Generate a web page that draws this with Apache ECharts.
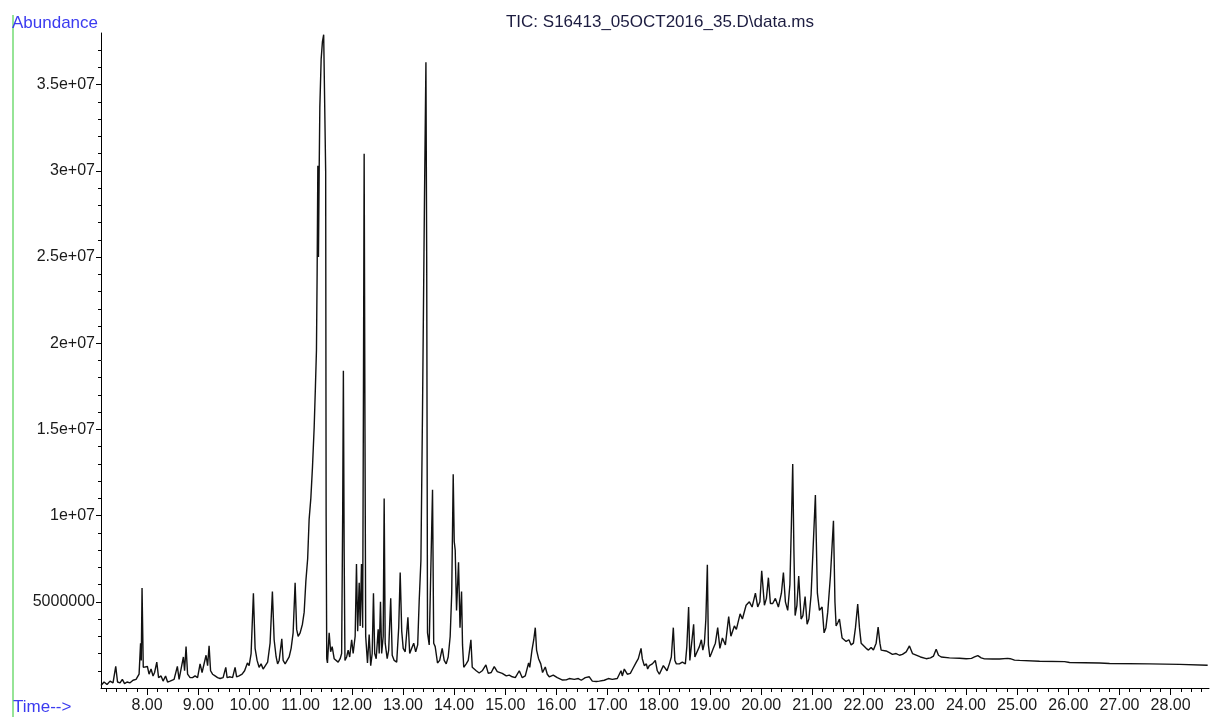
<!DOCTYPE html>
<html>
<head>
<meta charset="utf-8">
<script src="https://cdn.jsdelivr.net/npm/echarts@6/dist/echarts.min.js"></script>
<style>
  html, body { margin: 0; padding: 0; background: #ffffff; }
  #chart { width: 1211px; height: 717px; }
</style>
</head>
<body>
<div id="chart"></div>
<script>
// Total ion chromatogram: retention time (min) and abundance (millions of counts)
const retentionTime = [
  7.100, 7.159, 7.218, 7.277, 7.335, 7.388, 7.423, 7.472, 7.517, 7.560,
  7.609, 7.668, 7.726, 7.785, 7.844, 7.873, 7.887, 7.902, 7.926, 7.961,
  8.006, 8.039, 8.078, 8.117, 8.147, 8.190, 8.225, 8.274, 8.313, 8.362,
  8.401, 8.450, 8.489, 8.528, 8.557, 8.592, 8.626, 8.665, 8.710, 8.733,
  8.762, 8.792, 8.841, 8.889, 8.938, 8.987, 9.036, 9.075, 9.114, 9.153,
  9.183, 9.212, 9.241, 9.280, 9.329, 9.378, 9.427, 9.486, 9.538, 9.564,
  9.623, 9.671, 9.720, 9.750, 9.798, 9.857, 9.906, 9.961, 9.994, 10.033,
  10.078, 10.111, 10.150, 10.189, 10.228, 10.268, 10.307, 10.356, 10.404, 10.449,
  10.483, 10.522, 10.551, 10.581, 10.633, 10.659, 10.698, 10.737, 10.776, 10.815,
  10.854, 10.893, 10.923, 10.952, 10.991, 11.036, 11.070, 11.103, 11.138, 11.167,
  11.200, 11.232, 11.265, 11.290, 11.310, 11.323, 11.337, 11.349, 11.363, 11.376,
  11.402, 11.427, 11.451, 11.476, 11.490, 11.499, 11.511, 11.525, 11.558, 11.587,
  11.617, 11.656, 11.695, 11.734, 11.773, 11.802, 11.822, 11.836, 11.851, 11.867,
  11.900, 11.929, 11.959, 11.998, 12.027, 12.066, 12.092, 12.115, 12.145, 12.164,
  12.190, 12.213, 12.229, 12.242, 12.258, 12.272, 12.307, 12.340, 12.370, 12.399,
  12.424, 12.448, 12.477, 12.516, 12.536, 12.561, 12.584, 12.614, 12.633, 12.653,
  12.692, 12.721, 12.761, 12.790, 12.829, 12.878, 12.917, 12.946, 12.976, 13.005,
  13.044, 13.097, 13.132, 13.171, 13.210, 13.249, 13.288, 13.318, 13.351, 13.382,
  13.421, 13.449, 13.464, 13.480, 13.513, 13.543, 13.578, 13.601, 13.630, 13.675,
  13.718, 13.767, 13.806, 13.845, 13.884, 13.923, 13.953, 13.982, 14.002, 14.021,
  14.047, 14.086, 14.115, 14.145, 14.164, 14.188, 14.236, 14.276, 14.328, 14.354,
  14.393, 14.432, 14.490, 14.549, 14.621, 14.667, 14.725, 14.784, 14.843, 14.882,
  14.940, 15.019, 15.077, 15.136, 15.195, 15.273, 15.331, 15.390, 15.455, 15.478,
  15.521, 15.556, 15.586, 15.611, 15.650, 15.693, 15.728, 15.781, 15.820, 15.859,
  15.937, 16.016, 16.119, 16.191, 16.250, 16.348, 16.426, 16.485, 16.563, 16.641,
  16.700, 16.778, 16.837, 16.934, 17.013, 17.091, 17.188, 17.261, 17.286, 17.325,
  17.384, 17.443, 17.488, 17.521, 17.560, 17.599, 17.652, 17.677, 17.716, 17.756,
  17.781, 17.814, 17.847, 17.873, 17.931, 17.970, 18.010, 18.088, 18.127, 18.160,
  18.205, 18.244, 18.283, 18.313, 18.342, 18.401, 18.459, 18.518, 18.547, 18.582,
  18.606, 18.635, 18.680, 18.704, 18.733, 18.792, 18.831, 18.860, 18.890, 18.919,
  18.948, 18.968, 18.997, 19.026, 19.065, 19.105, 19.150, 19.193, 19.242, 19.300,
  19.365, 19.408, 19.476, 19.515, 19.588, 19.633, 19.705, 19.769, 19.822, 19.887,
  19.932, 19.975, 20.010, 20.063, 20.102, 20.141, 20.180, 20.225, 20.277, 20.336,
  20.395, 20.434, 20.473, 20.518, 20.561, 20.590, 20.616, 20.639, 20.663, 20.698,
  20.733, 20.780, 20.815, 20.858, 20.897, 20.932, 20.975, 21.020, 21.059, 21.098,
  21.138, 21.190, 21.229, 21.265, 21.300, 21.353, 21.412, 21.441, 21.464, 21.499,
  21.529, 21.581, 21.660, 21.714, 21.757, 21.802, 21.842, 21.886, 21.920, 21.953,
  21.984, 22.051, 22.096, 22.148, 22.193, 22.246, 22.285, 22.320, 22.344, 22.441,
  22.506, 22.565, 22.637, 22.702, 22.760, 22.833, 22.897, 22.956, 22.995, 23.112,
  23.224, 23.308, 23.367, 23.419, 23.464, 23.517, 23.679, 23.875, 24.006, 24.109,
  24.168, 24.233, 24.299, 24.363, 24.520, 24.657, 24.813, 24.866, 24.950, 25.048,
  25.439, 25.928, 26.026, 26.613, 26.807, 27.589, 28.176, 28.724
];

const abundanceMillions = [
  0.15, 0.35, 0.20, 0.40, 0.30, 1.25, 0.35, 0.30, 0.50, 0.25,
  0.35, 0.30, 0.45, 0.50, 0.80, 2.60, 1.60, 5.80, 1.20, 1.10,
  1.25, 0.80, 1.10, 0.70, 0.90, 1.50, 0.60, 0.70, 0.40, 0.70,
  0.35, 0.40, 0.30, 0.50, 0.40, 1.25, 0.50, 0.60, 1.80, 1.00,
  2.40, 0.80, 0.60, 0.60, 0.70, 0.60, 1.40, 0.90, 1.00, 1.90,
  1.30, 2.45, 1.00, 0.80, 0.70, 0.60, 0.55, 0.60, 1.20, 0.60,
  0.65, 0.60, 1.20, 0.65, 0.70, 0.80, 1.00, 1.45, 1.30, 2.00,
  5.50, 2.30, 1.60, 1.20, 1.40, 1.10, 1.20, 1.50, 2.60, 5.60,
  2.80, 1.80, 1.40, 1.60, 2.85, 1.60, 1.40, 1.50, 1.80, 2.30,
  3.20, 6.10, 3.40, 3.00, 3.20, 3.70, 4.40, 6.20, 7.50, 9.80,
  11.00, 12.80, 15.10, 17.50, 19.60, 24.00, 30.30, 25.00, 30.00, 33.70,
  36.50, 37.50, 37.90, 38.00, 30.00, 10.00, 1.70, 1.45, 3.20, 2.10,
  2.40, 1.70, 1.60, 1.50, 1.70, 2.00, 10.00, 18.40, 8.00, 1.60,
  1.80, 2.20, 1.80, 2.80, 2.00, 3.00, 7.20, 3.30, 6.10, 3.60,
  7.20, 3.50, 18.00, 31.00, 15.00, 3.00, 1.45, 3.10, 1.30, 2.00,
  5.50, 2.00, 1.70, 3.40, 2.00, 5.00, 2.00, 3.00, 11.00, 2.60,
  1.70, 2.20, 5.20, 1.90, 1.60, 1.50, 3.50, 6.70, 3.30, 2.30,
  2.10, 4.10, 2.00, 2.30, 2.60, 2.10, 2.50, 5.10, 7.40, 16.00,
  28.50, 36.30, 25.00, 3.20, 2.50, 2.60, 11.50, 2.60, 2.40, 1.45,
  1.60, 2.30, 1.60, 1.40, 1.80, 3.00, 5.50, 12.40, 8.50, 8.00,
  4.50, 7.30, 3.50, 5.60, 2.50, 1.20, 1.40, 1.60, 2.80, 1.20,
  1.10, 1.00, 0.87, 1.00, 1.34, 0.85, 0.90, 1.24, 0.95, 0.87,
  0.85, 0.70, 0.75, 0.65, 0.60, 1.00, 0.60, 0.70, 1.45, 1.20,
  2.20, 2.80, 3.50, 2.20, 1.70, 1.40, 0.90, 1.22, 0.80, 0.65,
  0.75, 0.60, 0.46, 0.47, 0.55, 0.50, 0.55, 0.45, 0.60, 0.65,
  0.40, 0.38, 0.40, 0.45, 0.55, 0.50, 0.55, 1.00, 0.70, 1.10,
  0.80, 0.85, 1.10, 1.00, 1.50, 1.70, 2.30, 1.70, 1.30, 1.40,
  1.10, 1.30, 1.20, 1.40, 1.60, 1.00, 0.80, 1.30, 1.20, 1.00,
  1.40, 1.80, 3.50, 1.60, 1.40, 1.40, 1.50, 1.40, 2.40, 4.70,
  1.60, 1.70, 3.70, 1.80, 2.00, 2.40, 2.80, 2.20, 2.60, 4.00,
  7.15, 2.50, 1.80, 2.00, 2.30, 2.60, 3.50, 2.30, 2.90, 2.50,
  4.15, 3.00, 3.60, 3.40, 4.30, 4.00, 4.80, 5.00, 4.70, 5.50,
  4.70, 5.00, 6.80, 4.80, 5.20, 6.40, 4.90, 4.90, 5.20, 4.70,
  5.50, 6.70, 5.00, 4.50, 6.00, 9.50, 13.00, 8.00, 4.20, 4.80,
  6.50, 4.00, 4.20, 5.30, 3.70, 4.00, 5.40, 8.50, 11.20, 5.50,
  4.50, 4.70, 3.20, 3.50, 4.40, 6.50, 9.70, 5.00, 3.60, 3.80,
  4.00, 2.90, 2.70, 2.80, 2.50, 2.60, 3.50, 4.87, 3.50, 2.60,
  2.50, 2.30, 2.20, 2.35, 2.20, 2.60, 3.53, 2.60, 2.20, 2.15,
  2.05, 1.95, 2.00, 1.90, 1.95, 2.10, 2.44, 2.00, 1.90, 1.80,
  1.70, 1.75, 1.85, 2.25, 1.90, 1.80, 1.75, 1.73, 1.70, 1.72,
  1.80, 1.88, 1.75, 1.69, 1.68, 1.68, 1.72, 1.70, 1.62, 1.60,
  1.55, 1.53, 1.48, 1.45, 1.42, 1.40, 1.37, 1.32
];

// Axis tick labels
const timeTickValues = [8, 9, 10, 11, 12, 13, 14, 15, 16, 17, 18, 19, 20, 21, 22, 23, 24, 25, 26, 27, 28];
const timeTickLabels = ['8.00', '9.00', '10.00', '11.00', '12.00', '13.00', '14.00', '15.00', '16.00', '17.00',
  '18.00', '19.00', '20.00', '21.00', '22.00', '23.00', '24.00', '25.00', '26.00', '27.00', '28.00'];
const abundanceTickValues = [5e6, 1e7, 1.5e7, 2e7, 2.5e7, 3e7, 3.5e7];
const abundanceTickLabels = ['5000000', '1e+07', '1.5e+07', '2e+07', '2.5e+07', '3e+07', '3.5e+07'];

const TIME_MIN = 7.1, TIME_MAX = 28.75;
const ABUND_MAX = 3.8e7;

// minor tick positions: every 0.2 min on time, every 1e6 counts on abundance
const timeMinorTicks = [];
for (let k = 36; k * 0.2 < TIME_MAX; k++) timeMinorTicks.push(+(k * 0.2).toFixed(1));
const abundMinorTicks = [];
for (let k = 1; k * 1e6 < ABUND_MAX; k++) abundMinorTicks.push(k * 1e6);

const trace = retentionTime.map((t, i) => [t, abundanceMillions[i] * 1e6]);

const FONT = '"Liberation Sans", Arial, sans-serif';
const chart = echarts.init(document.getElementById('chart'), null, { renderer: 'canvas' });

chart.setOption({
  animation: false,
  backgroundColor: '#ffffff',
  grid: { left: 101, right: 2, top: 33, bottom: 29, containLabel: false },
  xAxis: [
    {
      type: 'value', min: TIME_MIN, max: TIME_MAX,
      axisLine: { show: true, lineStyle: { color: '#000', width: 1 } },
      axisTick: { show: true, customValues: timeTickValues, length: 7, inside: false, lineStyle: { color: '#000' } },
      axisLabel: {
        show: true, customValues: timeTickValues, margin: 10,
        formatter: v => timeTickLabels[timeTickValues.indexOf(Math.round(v))] || '',
        color: '#1a1a1a', fontSize: 16, fontFamily: FONT
      },
      splitLine: { show: false }
    },
    {
      type: 'value', min: TIME_MIN, max: TIME_MAX, position: 'bottom',
      axisLine: { show: false },
      axisTick: { show: true, customValues: timeMinorTicks, length: 4, lineStyle: { color: '#000' } },
      axisLabel: { show: false },
      splitLine: { show: false }
    }
  ],
  yAxis: [
    {
      type: 'value', min: 0, max: ABUND_MAX,
      axisLine: { show: true, lineStyle: { color: '#000', width: 1 } },
      axisTick: { show: true, customValues: abundanceTickValues, length: 5, lineStyle: { color: '#000' } },
      axisLabel: {
        show: true, customValues: abundanceTickValues, margin: 6,
        formatter: v => {
          const i = abundanceTickValues.findIndex(a => Math.abs(a - v) < 1);
          return i >= 0 ? abundanceTickLabels[i] : '';
        },
        color: '#1a1a1a', fontSize: 16, fontFamily: FONT
      },
      splitLine: { show: false }
    },
    {
      type: 'value', min: 0, max: ABUND_MAX, position: 'left', offset: 0,
      axisLine: { show: false },
      axisTick: { show: true, customValues: abundMinorTicks, length: 3, lineStyle: { color: '#000' } },
      axisLabel: { show: false },
      splitLine: { show: false }
    }
  ],
  series: [
    {
      name: 'TIC',
      type: 'line',
      xAxisIndex: 0,
      yAxisIndex: 0,
      data: trace,
      showSymbol: false,
      symbol: 'none',
      sampling: null,
      lineStyle: { color: '#111111', width: 1.4 },
      z: 3
    }
  ],
  graphic: [
    {
      type: 'line', silent: true,
      shape: { x1: 13, y1: 15, x2: 13, y2: 717 },
      style: { stroke: '#96e496', lineWidth: 2 }
    },
    {
      type: 'text', silent: true, x: 12, y: 23,
      style: { text: 'Abundance', fill: '#3b3bf0', font: '17px ' + FONT, textVerticalAlign: 'middle', textAlign: 'left' }
    },
    {
      type: 'text', silent: true, x: 13, y: 707,
      style: { text: 'Time-->', fill: '#3b3bf0', font: '17px ' + FONT, textVerticalAlign: 'middle', textAlign: 'left' }
    },
    {
      type: 'text', silent: true, x: 660, y: 22,
      style: { text: 'TIC: S16413_05OCT2016_35.D\\data.ms', fill: '#1c1c40', font: '17px ' + FONT, textVerticalAlign: 'middle', textAlign: 'center' }
    }
  ]
});
</script>
</body>
</html>
